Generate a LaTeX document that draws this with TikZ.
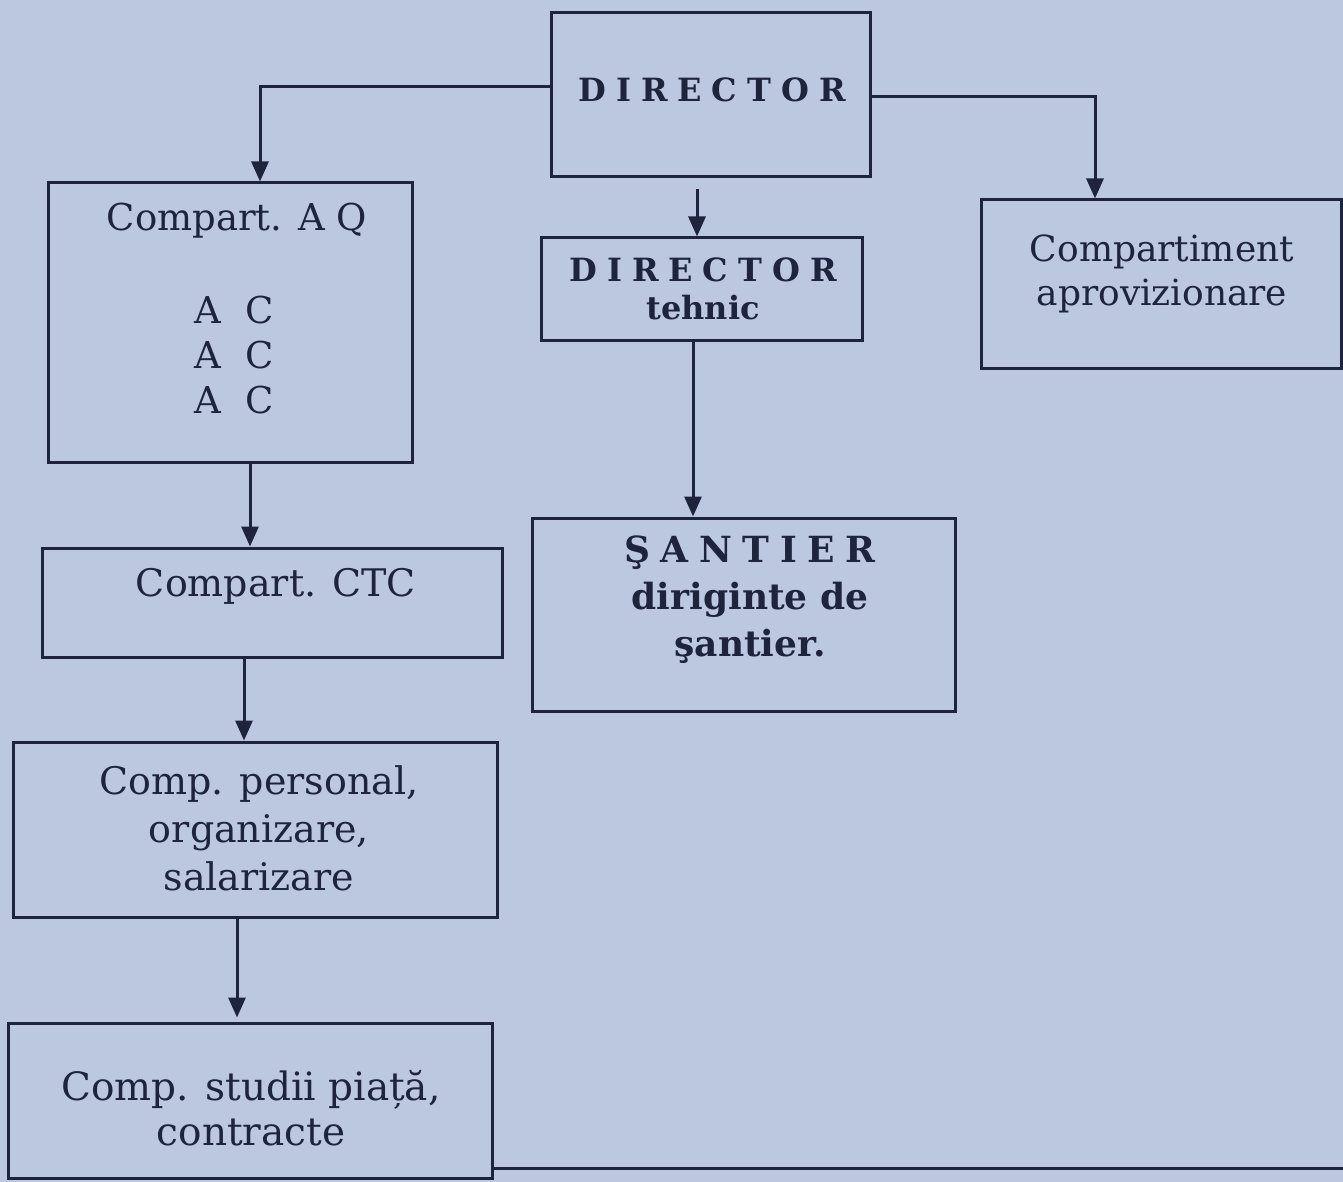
\documentclass[tikz,border=0pt]{standalone}
\usepackage{fontspec}
\setmainfont{DejaVu Serif}
\usetikzlibrary{arrows.meta}
\definecolor{paper}{RGB}{188,199,224}
\definecolor{ink}{RGB}{30,36,60}
\def\lsp{\kern 5pt}
\def\lsq{\kern 5.3pt}
\tikzset{
  box/.style={draw=ink, line width=1.5pt, inner sep=0pt},
  txt/.style={text=ink, font=\fontsize{19}{24}\selectfont, align=center, inner sep=0pt},
  btxt/.style={text=ink, font=\bfseries\fontsize{16}{19}\selectfont, align=center, inner sep=0pt},
  arr/.style={draw=ink, line width=1.5pt, -{Triangle[length=10pt,width=8.5pt]}},
  rule/.style={draw=ink, line width=1.5pt}
}
\begin{document}
\begin{tikzpicture}[x=0.5pt,y=-0.5pt]
\fill[paper] (0,0) rectangle (1343,1182);
\useasboundingbox (0,0) rectangle (1343,1182);

% boxes
\node[box, minimum width=159.5pt, minimum height=82pt] (dir) at (710.5,94.5) {};
\node[box, minimum width=160.5pt, minimum height=51pt] (dt) at (701.5,289) {};
\node[box, minimum width=180pt, minimum height=84pt] (apr) at (1161,284) {};
\node[box, minimum width=182pt, minimum height=139.5pt] (aq) at (230,322.5) {};
\node[box, minimum width=230pt, minimum height=54.5pt] (ctc) at (272,602.5) {};
\node[box, minimum width=242pt, minimum height=87.5pt] (pers) at (255,829.5) {};
\node[box, minimum width=242pt, minimum height=77.5pt] (stud) at (250,1100.5) {};
\node[box, minimum width=211.5pt, minimum height=96.5pt] (san) at (743.5,614.5) {};

% texts
\node[btxt] (dirt) at (712,90) {D\lsp I\lsp R\lsp E\lsp C\lsp T\lsp O\lsp R};
\node[btxt] (dtt) at (703,289) {D\lsp I\lsp R\lsp E\lsp C\lsp T\lsp O\lsp R\\tehnic};
\node[txt, font=\fontsize{18}{22}\selectfont] (aprt) at (1162,274) {Compartiment\\aprovizionare};
\node[txt, font=\fontsize{18.5}{24}\selectfont] (aqt) at (237,221) {Compart. A Q};
\node[txt, font=\fontsize{18.5}{22.5}\selectfont] (act) at (234,355) {A\kern 12pt C\\A\kern 12pt C\\A\kern 12pt C};
\node[txt] (ctct) at (276,586) {Compart. CTC};
\node[txt] (perst) at (259,828) {Comp. personal,\\organizare,\\salarizare};
\node[txt, font=\fontsize{19.5}{22.5}\selectfont] (studt) at (251,1108) {Comp. studii piață,\\contracte};
\node[btxt, font=\bfseries\fontsize{18}{23.5}\selectfont] (sant) at (750,600) {Ş\lsq A\lsq N\lsq T\lsq I\lsq E\lsq R\\diriginte de\\şantier.};

% connectors
\draw[arr] (dir.west |- 0,87) -| (aq.north -| 260,0);
\draw[arr] (dir.east |- 0,97) -| (apr.north -| 1095,0);
\draw[arr, shorten <=5.5pt] (dir.south -| 697,0) -- (dt.north -| 697,0);
\draw[arr] (dt.south -| 693,0) -- (san.north -| 693,0);
\draw[arr] (aq.south -| 250,0) -- (ctc.north -| 250,0);
\draw[arr] (ctc.south -| 244,0) -- (pers.north -| 244,0);
\draw[arr, shorten >=2pt] (pers.south -| 237,0) -- (stud.north -| 237,0);

% page rule
\draw[rule] (stud.east |- 0,1168) -- (1343,1168);
\end{tikzpicture}
\end{document}
